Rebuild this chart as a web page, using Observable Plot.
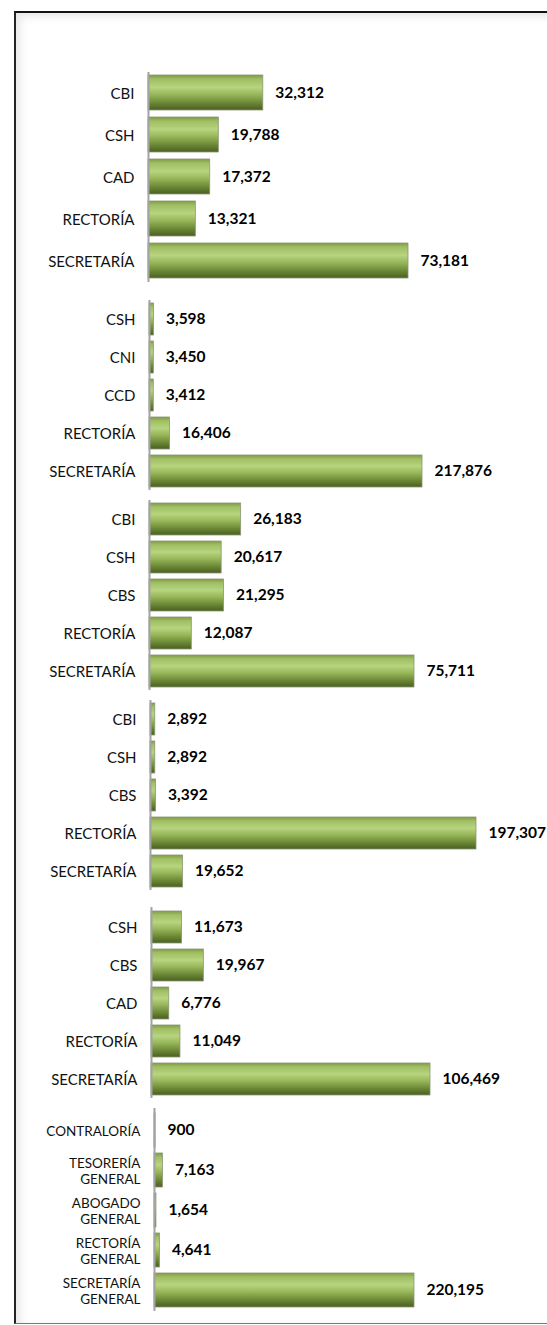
<!DOCTYPE html>
<html><head><meta charset="utf-8">
<script src="https://cdn.jsdelivr.net/npm/d3@7"></script>
<script src="https://cdn.jsdelivr.net/npm/@observablehq/plot@0.6"></script>
<style>
html,body{margin:0;padding:0;background:#fff;overflow:hidden;}
#page{position:relative;width:547px;height:1325px;overflow:hidden;background:#fff;}
#frame{position:absolute;left:14px;top:11px;width:600px;height:1310px;border-top:2px solid #111;border-left:2px solid #222;border-bottom:1.5px solid #777;box-shadow:inset 4px 4px 9px rgba(0,0,0,0.10);}
.grp{position:absolute;left:0;}
.grp svg{overflow:visible;}
</style></head><body>
<div id="page">
<div id="frame"></div>
<svg width="0" height="0" style="position:absolute">
  <defs>
    <linearGradient id="barGrad" x1="0" y1="0" x2="0" y2="1">
      <stop offset="0" stop-color="#7f9b45"/>
      <stop offset="0.12" stop-color="#a0be63"/>
      <stop offset="0.35" stop-color="#b7d47f"/>
      <stop offset="0.55" stop-color="#99b85b"/>
      <stop offset="0.8" stop-color="#6b8735"/>
      <stop offset="1" stop-color="#4a5f22"/>
    </linearGradient>
  </defs>
</svg>
</div>
<script>
// ---- data ----
const categories1 = ["CBI", "CSH", "CAD", "RECTORÍA", "SECRETARÍA"];
const values1 = [32312, 19788, 17372, 13321, 73181];
const categories2 = ["CSH", "CNI", "CCD", "RECTORÍA", "SECRETARÍA"];
const values2 = [3598, 3450, 3412, 16406, 217876];
const categories3 = ["CBI", "CSH", "CBS", "RECTORÍA", "SECRETARÍA"];
const values3 = [26183, 20617, 21295, 12087, 75711];
const categories4 = ["CBI", "CSH", "CBS", "RECTORÍA", "SECRETARÍA"];
const values4 = [2892, 2892, 3392, 197307, 19652];
const categories5 = ["CSH", "CBS", "CAD", "RECTORÍA", "SECRETARÍA"];
const values5 = [11673, 19967, 6776, 11049, 106469];
const categories6 = ["CONTRALORÍA", "TESORERÍA\nGENERAL", "ABOGADO\nGENERAL", "RECTORÍA\nGENERAL", "SECRETARÍA\nGENERAL"];
const values6 = [900, 7163, 1654, 4641, 220195];

// ---- layout (pixel geometry of each small chart) ----
const groups = [
  {cats: categories1, vals: values1, top: 72, height: 210, axisX: 148, endX: 408, catSize: 15, pad: 0.04},
  {cats: categories2, vals: values2, top: 300, height: 190, axisX: 149, endX: 422, catSize: 15, pad: 0.04},
  {cats: categories3, vals: values3, top: 500, height: 190, axisX: 149, endX: 414, catSize: 15, pad: 0.04},
  {cats: categories4, vals: values4, top: 700, height: 190, axisX: 150, endX: 476, catSize: 15, pad: 0.04},
  {cats: categories5, vals: values5, top: 907, height: 191, axisX: 151, endX: 430, catSize: 15, pad: 0.04},
  {cats: categories6, vals: values6, top: 1108, height: 203, axisX: 154, endX: 414, catSize: 13.5, pad: 0.08}
];

const fmt = d3.format(",");
const page = document.getElementById("page");

for (const g of groups) {
  const data = g.cats.map((c, i) => ({cat: c, value: g.vals[i]}));
  const chart = Plot.plot({
    width: 547,
    height: g.height,
    marginLeft: 0, marginRight: 0, marginTop: 0, marginBottom: 0,
    style: {fontFamily: "Lato, sans-serif", background: "transparent", overflow: "visible"},
    x: {domain: [0, d3.max(g.vals)], range: [g.axisX, g.endX], axis: null},
    y: {domain: g.cats, paddingInner: 0.16, paddingOuter: g.pad, axis: null},
    marks: [
      Plot.barX(data, {x: "value", y: "cat", fill: "url(#barGrad)", stroke: "#8a9676", strokeWidth: 0.8}),
      Plot.ruleX([0], {stroke: "#a3a3a3", strokeWidth: 2}),
      Plot.text(data, {x: 0, y: "cat", text: "cat", textAnchor: "end", dx: -14, fontSize: g.catSize, lineHeight: 1.2, fill: "#111"}),
      Plot.text(data, {x: "value", y: "cat", text: d => fmt(d.value), textAnchor: "start", dx: 12, fontSize: 15.5, fontWeight: "bold", fill: "#000"})
    ]
  });
  const div = document.createElement("div");
  div.className = "grp";
  div.style.top = g.top + "px";
  div.appendChild(chart);
  page.appendChild(div);
}
</script>
</body></html>
